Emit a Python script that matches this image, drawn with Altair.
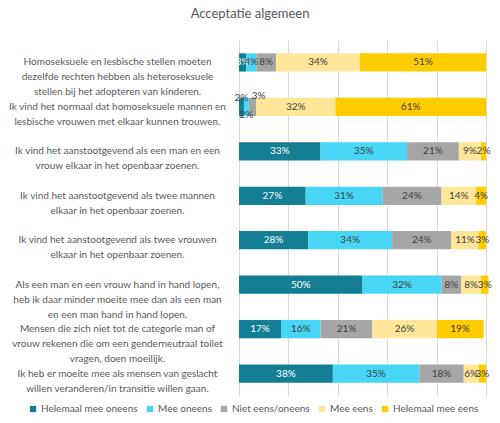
import altair as alt
import pandas as pd

statements = [
    "Homoseksuele en lesbische stellen moeten\ndezelfde rechten hebben als heteroseksuele\nstellen bij het adopteren van kinderen.",
    "Ik vind het normaal dat homoseksuele mannen en\nlesbische vrouwen met elkaar kunnen trouwen.",
    "Ik vind het aanstootgevend als een man en een\nvrouw elkaar in het openbaar zoenen.",
    "Ik vind het aanstootgevend als twee mannen\nelkaar in het openbaar zoenen.",
    "Ik vind het aanstootgevend als twee vrouwen\nelkaar in het openbaar zoenen.",
    "Als een man en een vrouw hand in hand lopen,\nheb ik daar minder moeite mee dan als een man\nen een man hand in hand lopen.",
    "Mensen die zich niet tot de categorie man of\nvrouw rekenen die om een genderneutraal toilet\nvragen, doen moeilijk.",
    "Ik heb er moeite mee als mensen van geslacht\nwillen veranderen/in transitie willen gaan.",
]

categories = ["Helemaal mee oneens", "Mee oneens", "Niet eens/oneens", "Mee eens", "Helemaal mee eens"]
colors = ["#137E94", "#47D6F5", "#A6A6A6", "#FFE699", "#FFCC00"]

helemaal_oneens = [3, 2, 33, 27, 28, 50, 17, 38]
mee_oneens = [4, 2, 35, 31, 34, 32, 16, 35]
neutraal = [8, 3, 21, 24, 24, 8, 21, 18]
mee_eens = [34, 32, 9, 14, 11, 8, 26, 6]
helemaal_eens = [51, 61, 2, 4, 3, 3, 19, 3]

series = [helemaal_oneens, mee_oneens, neutraal, mee_eens, helemaal_eens]

rows = []
for si, st in enumerate(statements):
    vals = [s[si] for s in series]
    # label collision handling: in a run of consecutive tiny segments, alternate labels up / down
    small = [v < 4 for v in vals]
    run_pos = [0] * 5
    for ci in range(5):
        if small[ci]:
            run_pos[ci] = (run_pos[ci - 1] + 1) if ci > 0 and small[ci - 1] else 1
    for ci, (cat, v) in enumerate(zip(categories, vals)):
        in_run = small[ci] and ((ci > 0 and small[ci - 1]) or (ci < 4 and small[ci + 1]))
        place = "mid"
        if in_run:
            if run_pos[ci] % 2 == 0:
                place = "down"
            elif run_pos[ci] >= 3:
                place = "upright"
            else:
                place = "up"
        rows.append({"statement": st, "cat": cat, "order": ci, "value": v,
                     "label": f"{v}%", "place": place})
df = pd.DataFrame(rows)

base = alt.Chart(df).transform_stack(
    stack="value", groupby=["statement"], as_=["x0", "x1"],
    sort=[alt.SortField("order", order="ascending")]
).transform_calculate(
    mid="(datum.x0 + datum.x1) / 2",
)

y_enc = alt.Y("statement:N", sort=statements, title=None,
              scale=alt.Scale(paddingInner=0.59, paddingOuter=0.3),
              axis=alt.Axis(labelExpr="split(datum.label, '\\n')", labelAlign="center",
                            labelPadding=122, labelLimit=400, labelFontSize=10,
                            labelFont="Lato", labelColor="#595959", labelLineHeight=15,
                            ticks=False, domain=False, grid=False))

bars = base.mark_bar().encode(
    x=alt.X("x0:Q", scale=alt.Scale(domain=[0, 100], nice=False), title=None,
            axis=alt.Axis(values=[0, 20, 40, 60, 80, 100], labels=False, ticks=False,
                          domain=False, grid=True, gridColor="#D9D9D9")),
    x2="x1:Q",
    y=y_enc,
    color=alt.Color("cat:N", sort=categories, title=None,
                    scale=alt.Scale(domain=categories, range=colors),
                    legend=alt.Legend(orient="none", legendX=-211, legendY=364,
                                      direction="horizontal", symbolType="square",
                                      symbolSize=40, labelFont="Lato", labelFontSize=10,
                                      labelColor="#595959", columnPadding=7, labelOffset=3,
                                      symbolStrokeWidth=0)),
)


def labels(place, dx=0, dy=0):
    return base.transform_filter(alt.datum.place == place).mark_text(
        font="Lato", fontSize=10, dx=dx, dy=dy).encode(
        x="mid:Q",
        y=y_enc,
        text="label:N",
        color=alt.condition("datum.order == 0 && datum.place == 'mid'",
                            alt.value("#FFFFFF"), alt.value("#404040")),
    )


chart = alt.layer(
    bars, labels("mid"), labels("up", dy=-9), labels("down", dy=8), labels("upright", dx=6, dy=-11)
).properties(
    width=247, height=356, padding=0,
    title=alt.TitleParams("Acceptatie algemeen", font="Lato", fontSize=13, fontWeight="normal",
                          color="#595959", anchor="middle", frame="bounds", offset=19),
).configure_view(stroke=None)

chart.save("out.html", embed_options={"renderer": "svg", "actions": False})
